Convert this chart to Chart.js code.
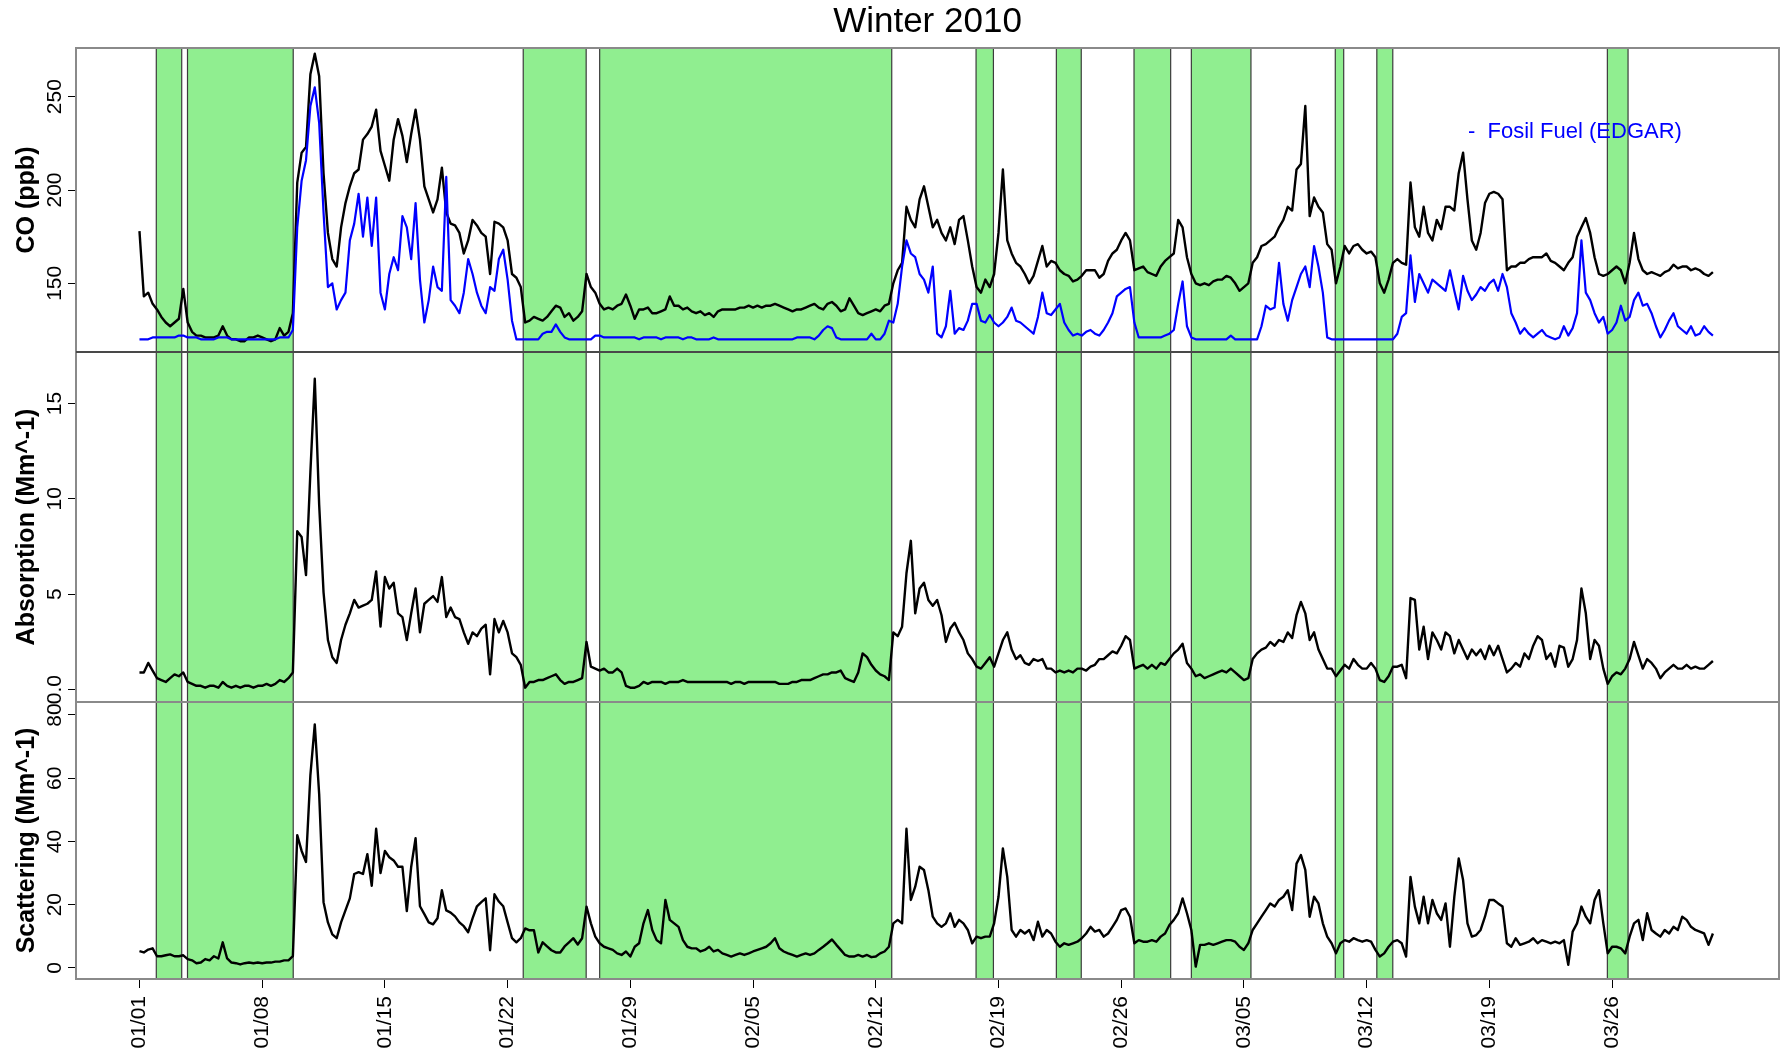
<!DOCTYPE html>
<html><head><meta charset="utf-8">
<script src="https://cdn.jsdelivr.net/npm/chart.js@4.4.1/dist/chart.umd.min.js"></script>
<style>
html,body{margin:0;padding:0;background:#fff;}
#wrap{position:relative;width:1785px;height:1053px;overflow:hidden;background:#fff;}
canvas{position:absolute;left:0;}
</style></head><body>
<div id="wrap">
<canvas id="cSca" width="1785" height="351" style="top:702px;z-index:1"></canvas>
<canvas id="cAbs" width="1785" height="362" style="top:352px;z-index:2"></canvas>
<canvas id="cCO" width="1785" height="352" style="top:0px;z-index:3"></canvas>
</div>
<script>
// ---- time axis (days since 01/01 00:00, sampled every 6 h) ----
const startDay = 0;
const stepDays = 0.25;
const xTickDays = [0, 7, 14, 21, 28, 35, 42, 49, 56, 63, 70, 77, 84];
const xTickLabels = ['01/01','01/08','01/15','01/22','01/29','02/05','02/12','02/19','02/26','03/05','03/12','03/19','03/26'];

// ---- shaded periods (start / end day) ----
const greenStart = [0.96, 2.74, 21.89, 26.25, 47.72, 52.30, 56.73, 60.00, 68.21, 70.58, 83.73];
const greenEnd   = [2.41, 8.77, 25.48, 42.91, 48.71, 53.72, 58.82, 63.40, 68.69, 71.49, 84.91];

// ---- CO observed (ppb) ----
const coObserved = [
178,143,145,139, 136,132,129,127, 129,131,147,129, 124,122,122,121, 121,121,122,127,
122,120,120,119, 119,121,121,122, 121,120,119,120, 126,122,124,134, 204,220,223,262,
273,261,209,177, 163,159,180,193, 202,209,211,227, 230,234,243,221, 213,205,227,238,
229,215,230,243, 227,202,195,188, 195,212,188,182, 181,177,166,173, 184,181,177,175,
155,183,182,180, 173,155,153,148, 129,130,132,131, 130,132,135,138, 137,132,134,130,
132,135,155,148, 145,139,136,137, 136,138,139,144, 138,131,136,136, 137,134,134,135,
136,143,138,138, 136,137,135,134, 135,133,134,132, 135,136,136,136, 136,137,137,138,
137,138,137,138, 138,139,138,137, 136,135,136,136, 137,138,139,137, 136,139,140,138,
135,136,142,138, 134,133,134,135, 136,135,138,139, 150,157,161,191, 184,180,195,202,
191,180,184,177, 173,180,171,184, 186,173,159,148, 145,152,148,155, 177,211,173,166,
161,159,155,150, 154,162,170,159, 162,161,157,155, 154,151,152,154, 157,157,157,153,
155,162,166,168, 173,177,173,157, 158,159,156,155, 154,159,162,164, 166,184,180,164,
155,150,149,150, 149,151,152,152, 154,153,150,146, 148,150,161,164, 170,171,173,175,
180,184,191,189, 211,214,245,186, 196,191,188,171, 168,150,159,170, 166,170,171,168,
166,167,164,150, 145,152,161,163, 161,160,204,180, 175,191,177,173, 184,179,191,191,
189,209,220,195, 173,168,177,193, 198,199,198,195, 157,159,159,161, 161,163,164,164,
164,166,162,161, 159,157,161,164, 175,180,185,177, 164,155,154,155, 157,159,157,150,
161,177,163,157, 155,156,155,154, 156,157,160,158, 159,159,157,158, 157,155,154,156
];

// ---- CO fossil fuel, EDGAR (ppb) ----
const coFossilEdgar = [
120,120,120,121, 121,121,121,121, 121,122,122,121, 121,121,120,120, 120,120,121,121,
121,120,120,120, 120,120,120,120, 120,120,120,120, 121,121,121,125, 180,205,216,245,
255,236,188,148, 150,136,141,145, 173,182,198,175, 196,170,196,145, 136,155,164,157,
186,180,163,193, 152,129,141,159, 148,146,207,141, 138,134,145,163, 155,145,138,134,
148,146,163,168, 152,130,120,120, 120,120,120,120, 123,124,124,128, 124,121,120,120,
120,120,120,120, 122,122,121,121, 121,121,121,121, 121,121,120,121, 121,121,121,120,
121,121,121,121, 120,121,121,120, 120,120,120,121, 120,120,120,120, 120,120,120,120,
120,120,120,120, 120,120,120,120, 120,120,121,121, 121,121,120,122, 125,127,126,121,
120,120,120,120, 120,120,120,123, 120,120,123,130, 129,139,159,173, 166,164,155,152,
145,159,123,121, 127,146,123,126, 125,130,139,139, 130,129,133,129, 127,129,132,137,
130,129,127,125, 123,132,145,134, 133,136,139,129, 125,122,123,122, 124,125,123,122,
125,129,134,143, 145,147,148,129, 121,121,121,121, 121,121,122,123, 125,139,151,127,
121,120,120,120, 120,120,120,120, 120,122,120,120, 120,120,120,120, 127,138,136,137,
161,139,130,141, 148,155,159,148, 170,159,145,121, 120,120,120,120, 120,120,120,120,
120,120,120,120, 120,120,120,123, 132,134,165,140, 155,150,145,152, 150,148,146,157,
146,136,154,146, 141,144,148,146, 150,152,146,155, 148,134,129,123, 126,123,121,123,
125,122,121,120, 121,127,122,126, 134,173,145,141, 134,129,132,123, 125,129,138,130,
132,141,145,138, 139,134,127,121, 125,130,134,127, 125,123,127,122, 123,127,124,122
];

// ---- Absorption (Mm^-1) ----
const absorption = [
0.9,0.9,1.4,1.0, 0.6,0.5,0.4,0.6, 0.8,0.7,0.9,0.4, 0.3,0.2,0.2,0.1, 0.2,0.2,0.1,0.4,
0.2,0.1,0.2,0.1, 0.2,0.2,0.1,0.2, 0.2,0.3,0.2,0.3, 0.5,0.4,0.6,0.9, 8.3,8.0,6.0,11.4,
16.3,9.7,5.1,2.6, 1.7,1.4,2.6,3.4, 4.0,4.7,4.3,4.4, 4.5,4.7,6.2,3.3, 5.9,5.3,5.6,4.0,
3.8,2.6,4.0,5.3, 3.0,4.5,4.7,4.9, 4.6,5.9,3.8,4.3, 3.8,3.7,3.0,2.4, 3.0,2.8,3.2,3.4,
0.8,3.7,3.0,3.6, 3.0,1.9,1.7,1.3, 0.1,0.4,0.4,0.5, 0.5,0.6,0.7,0.8, 0.5,0.3,0.4,0.4,
0.5,0.6,2.5,1.2, 1.1,1.0,1.1,0.9, 0.9,1.1,0.9,0.2, 0.1,0.1,0.2,0.4, 0.3,0.4,0.4,0.4,
0.3,0.4,0.4,0.4, 0.5,0.4,0.4,0.4, 0.4,0.4,0.4,0.4, 0.4,0.4,0.4,0.3, 0.4,0.4,0.3,0.4,
0.4,0.4,0.4,0.4, 0.4,0.4,0.3,0.3, 0.3,0.4,0.4,0.5, 0.5,0.5,0.6,0.7, 0.8,0.8,0.9,0.9,
1.0,0.6,0.5,0.4, 0.9,1.9,1.7,1.3, 1.0,0.8,0.7,0.5, 3.0,2.8,3.3,6.1, 7.8,4.0,5.3,5.6,
4.7,4.4,4.7,3.9, 2.5,3.2,3.5,3.0, 2.6,1.9,1.6,1.2, 1.1,1.4,1.7,1.2, 1.9,2.6,3.0,2.1,
1.6,1.8,1.4,1.3, 1.6,1.5,1.6,1.1, 1.1,0.9,1.0,0.9, 1.0,0.9,1.1,1.1, 1.0,1.2,1.3,1.6,
1.6,1.8,2.0,1.9, 2.3,2.8,2.6,1.1, 1.2,1.3,1.1,1.3, 1.1,1.4,1.3,1.6, 1.9,2.1,2.4,1.4,
1.1,0.7,0.8,0.6, 0.7,0.8,0.9,1.0, 0.9,1.1,0.9,0.7, 0.5,0.6,1.6,1.9, 2.1,2.2,2.5,2.3,
2.6,2.5,3.0,2.7, 3.9,4.6,4.0,2.6, 3.0,2.1,1.6,1.1, 1.1,0.7,1.0,1.3, 1.1,1.6,1.3,1.1,
1.1,1.4,1.1,0.5, 0.4,0.7,1.2,1.2, 1.3,0.6,4.8,4.7, 2.1,3.3,1.6,3.0, 2.6,2.1,3.0,2.8,
1.9,2.6,2.1,1.6, 2.1,1.8,2.1,1.6, 2.3,1.8,2.3,1.6, 0.9,1.1,1.4,1.2, 1.9,1.6,2.3,2.8,
2.6,1.6,1.9,1.2, 2.3,2.2,1.2,1.6, 2.6,5.3,4.0,1.6, 2.6,2.3,1.1,0.3, 0.7,0.9,0.8,1.1,
1.6,2.5,1.8,1.1, 1.6,1.4,1.1,0.6, 0.9,1.1,1.3,1.1, 1.1,1.3,1.1,1.2, 1.1,1.1,1.3,1.5
];

// ---- Scattering (Mm^-1) ----
const scattering = [
5.3,4.9,5.8,6.2, 3.7,3.7,4.0,4.3, 3.7,3.7,4.0,2.8, 2.4,1.5,1.7,2.8, 2.4,3.7,3.0,8.1,
3.0,1.7,1.5,1.1, 1.5,1.7,1.5,1.7, 1.5,1.7,1.7,2.0, 2.0,2.4,2.4,3.7, 42,37,33.5,61,
77,55,20.8,14.4, 10.6,9.4,14.4,18.2, 22,29.7,30.3,29.7, 36,26,44,30, 37,35,34,32,
32,18,32,41, 19.5,17,14.4,13.8, 15.7,24.6,18.2,17.5, 16.3,14.4,13.2,11.3, 15.7,19.5,20.8,22,
5.6,23.3,21,19.5, 14.4,9.4,8.1,9.4, 12.5,11.9,11.9,4.9, 8.1,6.8,5.6,4.9, 4.9,6.8,8.1,9.4,
7.4,9.4,19.4,14.1, 9.9,7.8,6.7,6.2, 5.7,4.6,4.1,5.2, 3.6,6.7,7.8,14.1, 18.3,12,8.8,7.8,
21.5,15.2,14.1,13, 8.8,6.7,6.2,6.2, 5.2,5.7,6.7,5.2, 5.7,4.6,4.1,3.6, 4.1,4.6,4.1,4.6,
5.2,5.7,6.2,6.7, 7.8,9.4,6.2,5.2, 4.6,4.1,3.6,4.1, 4.6,4.1,4.6,5.7, 6.7,7.8,9.0,7.3,
5.7,4.1,3.6,3.6, 4.1,3.6,4.1,3.4, 3.6,4.6,5.2,6.7, 14.1,15.2,14.1,44, 21.5,25.7,32,31,
24.6,16.2,14.1,13, 14.1,17.3,13,15.2, 14.1,12,7.8,9.9, 9.4,9.9,9.9,14.1, 22.5,37.8,28.8,12,
9.9,12,10.9,12, 8.8,14.6,9.9,12, 10.9,8.3,6.7,7.8, 7.3,7.8,8.3,9.4, 10.9,13,11.5,12,
9.9,10.9,13,15.2, 18.3,18.8,16.2,7.8, 8.8,8.3,8.3,8.8, 8.3,9.9,10.9,13.6, 15.2,17.3,22,17.3,
12,0.4,7.3,7.3, 7.8,7.3,7.8,8.3, 8.8,8.8,8.3,6.7, 5.7,7.8,12,14.1, 16.2,18.3,20.4,19.4,
21.5,22.5,24.6,18.3, 33,35.7,31,16.2, 22.5,20.4,14.1,9.9, 7.8,4.6,7.8,8.8, 8.3,9.4,8.8,8.3,
8.8,8.3,5.7,3.6, 4.6,6.7,8.3,8.8, 7.8,3.6,28.8,19.4, 14.1,22.5,14.1,21.5, 17.3,15.2,20.4,6.7,
22.5,34.6,27.8,14.1, 9.9,10.4,12,16.2, 21.5,21.5,20.4,19.4, 7.8,6.7,9.4,7.3, 7.8,8.3,9.4,7.8,
8.8,8.3,7.8,8.3, 7.8,8.8,1.0,11.5, 14.1,19.4,16.2,14.1, 21.5,24.6,14.1,4.6, 6.7,6.7,6.2,4.6,
9.9,14.1,15.2,8.8, 17.3,12,10.9,9.9, 12,10.9,13,12, 16.2,15.2,13,12, 11.5,10.9,7.3,10.9
];

// ---- y tick values / labels ----
const coTicks = [150, 200, 250];
const coTickLabels = ['150', '200', '250'];
const absTicks = [0, 5, 10, 15];
const absTickLabels = ['0.0', '5', '10', '15'];
const scaTicks = [0, 20, 40, 60, 80];
const scaTickLabels = ['0', '20', '40', '60', '80'];

// ================= rendering =================
const FONT = "'Liberation Sans', Arial, Helvetica, sans-serif";
const X_MIN = -3.62, X_MAX = 93.52;
const toPts = arr => arr.map((v, i) => ({x: startDay + i * stepDays, y: v}));

const greenPlugin = {
  id: 'greenPeriods',
  beforeDatasetsDraw(chart) {
    const {ctx, chartArea: a, scales: {x}} = chart;
    ctx.save();
    ctx.beginPath(); ctx.rect(a.left, a.top, a.width, a.height); ctx.clip();
    for (let i = 0; i < greenStart.length; i++) {
      const x1 = x.getPixelForValue(greenStart[i]);
      const x2 = x.getPixelForValue(greenEnd[i]);
      ctx.fillStyle = '#90EE90';
      ctx.fillRect(x1, a.top, x2 - x1, a.height);
      ctx.strokeStyle = '#3c3c3c';
      ctx.lineWidth = 1.2;
      ctx.strokeRect(x1, a.top, x2 - x1, a.height);
    }
    ctx.restore();
  }
};

function boxPlugin(darkTop, darkBottom) {
  return {
    id: 'panelBox',
    afterDatasetsDraw(chart) {
      const {ctx, chartArea: a} = chart;
      ctx.save();
      ctx.strokeStyle = '#8a8a8a';
      ctx.lineWidth = 2;
      ctx.strokeRect(a.left, a.top, a.width, a.height);
      ctx.strokeStyle = '#333';
      ctx.lineWidth = 1.3;
      if (darkTop) { ctx.beginPath(); ctx.moveTo(a.left, a.top); ctx.lineTo(a.right, a.top); ctx.stroke(); }
      if (darkBottom) { ctx.beginPath(); ctx.moveTo(a.left, a.bottom); ctx.lineTo(a.right, a.bottom); ctx.stroke(); }
      ctx.restore();
    }
  };
}

const legendPlugin = {
  id: 'edgarLabel',
  afterDraw(chart) {
    const {ctx} = chart;
    ctx.save();
    ctx.font = '22px ' + FONT;
    ctx.fillStyle = '#0000FF';
    ctx.textAlign = 'left';
    ctx.textBaseline = 'middle';
    ctx.fillText('-  Fosil Fuel (EDGAR)', 1468, 132);
    ctx.restore();
  }
};

function yScale(min, max, ticks, labels, title, pad) {
  return {
    type: 'linear', position: 'left', min: min, max: max,
    afterBuildTicks: s => { s.ticks = ticks.map(v => ({value: v})); },
    afterFit: s => { s.width = 76; s.paddingTop = 0; s.paddingBottom = 0; s.paddingLeft = 0; s.paddingRight = 0; },
    ticks: {
      autoSkip: false, minRotation: 90, maxRotation: 90, crossAlign: 'center', padding: pad,
      color: '#000', font: {family: FONT, size: 21},
      callback: (v, i) => labels[i]
    },
    grid: {drawOnChartArea: false, drawTicks: true, tickLength: 8, color: '#000', lineWidth: 1},
    border: {display: false},
    title: {display: true, text: title, color: '#000',
            font: {family: FONT, size: 25, weight: 'bold', lineHeight: 1.2},
            padding: {top: 12, bottom: 0}}
  };
}

function xScaleHidden() {
  return {type: 'linear', min: X_MIN, max: X_MAX, display: false};
}

function xScaleShown() {
  return {
    type: 'linear', position: 'bottom', min: X_MIN, max: X_MAX,
    afterBuildTicks: s => { s.ticks = xTickDays.map(v => ({value: v})); },
    afterFit: s => { s.height = 74; s.paddingTop = 0; s.paddingBottom = 0; s.paddingLeft = 0; s.paddingRight = 0; },
    ticks: {
      autoSkip: false, minRotation: 90, maxRotation: 90, padding: 8,
      color: '#000', font: {family: FONT, size: 21},
      callback: (v, i) => xTickLabels[i]
    },
    grid: {drawOnChartArea: false, drawTicks: true, tickLength: 9, color: '#000', lineWidth: 1},
    border: {display: false}
  };
}

const common = {
  responsive: false, animation: false, devicePixelRatio: 1,
  events: [],
  elements: {point: {radius: 0}, line: {tension: 0, borderJoinStyle: 'round'}},
};

new Chart(document.getElementById('cCO'), {
  type: 'line',
  data: {datasets: [
    {label: 'Fosil Fuel (EDGAR)', data: toPts(coFossilEdgar), borderColor: '#0000FF', borderWidth: 2.2, pointRadius: 0, order: 0},
    {label: 'CO', data: toPts(coObserved), borderColor: '#000000', borderWidth: 2.4, pointRadius: 0, order: 1}
  ]},
  options: Object.assign({}, common, {
    layout: {padding: {left: 0, right: 6, top: 0, bottom: 0}},
    scales: {x: xScaleHidden(), y: yScale(113.2, 276.1, coTicks, coTickLabels, 'CO (ppb)', -4.5)},
    plugins: {
      legend: {display: false}, tooltip: {enabled: false},
      title: {display: true, text: 'Winter 2010', color: '#000', fullSize: false,
              font: {family: FONT, size: 35, weight: 'normal', lineHeight: 1},
              padding: {top: 5, bottom: 8}}
    }
  }),
  plugins: [greenPlugin, boxPlugin(false, true), legendPlugin]
});

new Chart(document.getElementById('cAbs'), {
  type: 'line',
  data: {datasets: [
    {label: 'Absorption', data: toPts(absorption), borderColor: '#000000', borderWidth: 2.4, pointRadius: 0}
  ]},
  options: Object.assign({}, common, {
    layout: {padding: {left: 0, right: 6, top: 0, bottom: 12}},
    scales: {x: xScaleHidden(), y: yScale(-0.65, 17.7, absTicks, absTickLabels, 'Absorption (Mm^-1)', -1.6)},
    plugins: {legend: {display: false}, tooltip: {enabled: false}}
  }),
  plugins: [greenPlugin, boxPlugin(true, false)]
});

new Chart(document.getElementById('cSca'), {
  type: 'line',
  data: {datasets: [
    {label: 'Scattering', data: toPts(scattering), borderColor: '#000000', borderWidth: 2.4, pointRadius: 0}
  ]},
  options: Object.assign({}, common, {
    layout: {padding: {left: 0, right: 6, top: 0, bottom: 0}},
    scales: {x: xScaleShown(), y: yScale(-3.5, 84.1, scaTicks, scaTickLabels, 'Scattering (Mm^-1)', 1.3)},
    plugins: {legend: {display: false}, tooltip: {enabled: false}}
  }),
  plugins: [greenPlugin, boxPlugin(false, false)]
});
</script>
</body></html>
